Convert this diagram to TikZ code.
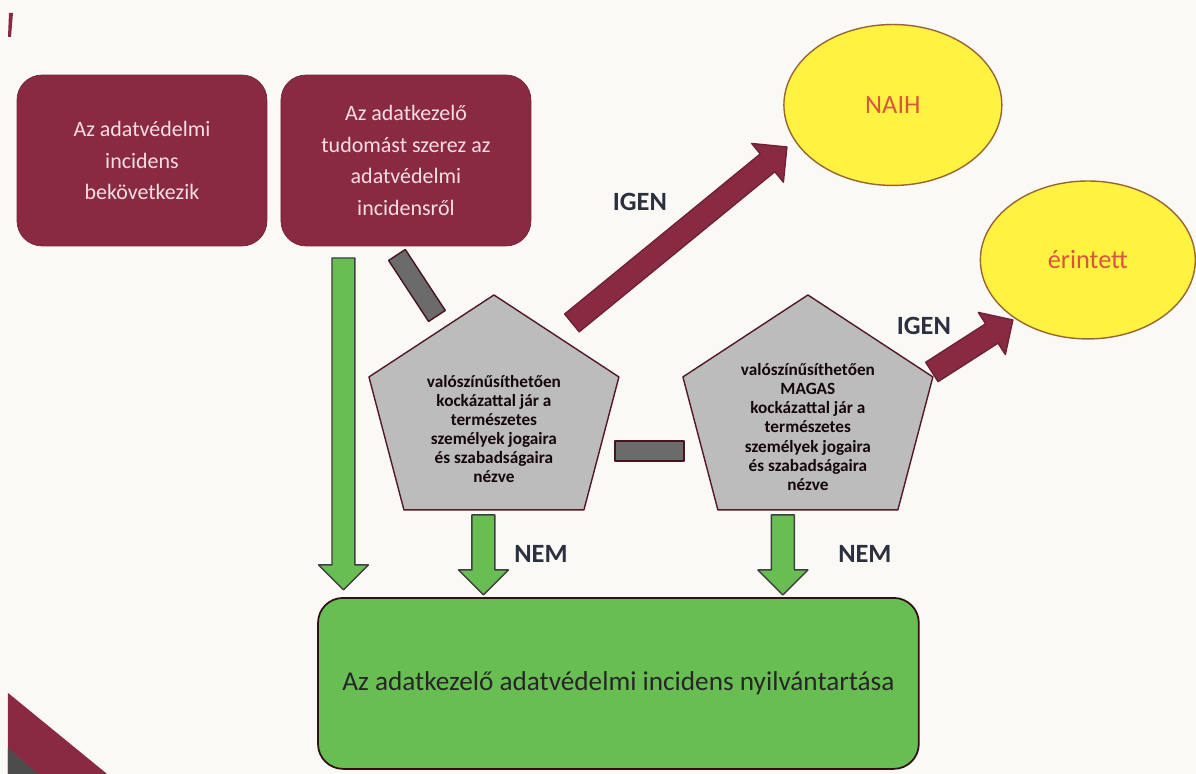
\documentclass[tikz,border=0pt]{standalone}
\usepackage{fontspec}
\setmainfont{Carlito}
\usetikzlibrary{calc,shapes.geometric}
\definecolor{maroon}{RGB}{138,42,66}
\definecolor{leaf}{RGB}{104,190,82}
\definecolor{sun}{RGB}{255,242,64}
\definecolor{stone}{RGB}{188,188,188}
\definecolor{slate}{RGB}{44,48,62}
\definecolor{rose}{RGB}{246,222,228}
\definecolor{naihred}{RGB}{220,84,64}
\definecolor{paper}{RGB}{250,249,246}
\newcommand{\blockarrow}[3]{%
  \coordinate (hb) at ($(#3)!0.5cm!(#2)$);
  \draw[#1] ($(#2)!0.23cm!90:(#3)$) -- ($(hb)!0.23cm!90:(#3)$) -- ($(hb)!0.5cm!90:(#3)$) -- (#3)
    -- ($(hb)!0.5cm!-90:(#3)$) -- ($(hb)!0.23cm!-90:(#3)$) -- ($(#2)!0.23cm!-90:(#3)$) -- cycle;}
\newcommand{\greybar}[2]{%
  \draw[bar] ($(#1)!0.2cm!90:(#2)$) -- ($(#2)!0.2cm!-90:(#1)$) -- ($(#2)!0.2cm!90:(#1)$) -- ($(#1)!0.2cm!-90:(#2)$) -- cycle;}
\begin{document}
\begin{tikzpicture}[x=0.02cm, y=-0.02cm, line cap=round, line join=round]
			\tikzset{maroonbox/.style={rounded corners=0.5cm, fill=maroon, draw=maroon!85!black, text=rose, minimum width=5cm, minimum height=3.42cm, align=center, font=\fontsize{12.5}{18}\selectfont},
				record/.style={rounded corners=0.5cm, fill=leaf, draw=black!65!maroon, line width=1pt, minimum width=12.02cm, minimum height=3.42cm, text=black!85, font=\fontsize{15.5}{18}\selectfont},
				target/.style={ellipse, fill=sun, draw=brown!80!black, line width=0.8pt, inner sep=0pt, text=naihred, font=\fontsize{15}{18}\selectfont},
				pentagon/.style={fill=stone, draw=maroon!60!black, line width=0.8pt},
				risk/.style={align=center, text=black!85!maroon, font=\bfseries\fontsize{9.8}{10.9}\selectfont},
				answer/.style={text=slate, font=\bfseries\fontsize{15}{18}\selectfont},
				green arrow/.style={fill=leaf, draw=black!75, line width=0.8pt},
				red arrow/.style={fill=maroon, draw=maroon!80!black, line width=0.8pt},
				bar/.style={fill=black!58, draw=maroon!50!black, line width=0.8pt}}
			\fill[paper] (0,0) rectangle (1196,774);
			\fill[maroon] (9,13) -- (13,13) -- (11,37) -- (8,37) -- cycle;
			\fill[maroon] (8,693) -- (107,774) -- (8,774) -- cycle;
			\fill[black!70] (8,748) -- (38,774) -- (8,774) -- cycle;
			\node[maroonbox] (occur) at (142,160.5) {Az adatvédelmi\\incidens\\bekövetkezik};
			\node[maroonbox] (aware) at (406,160.5) {Az adatkezelő\\tudomást szerez az\\adatvédelmi\\incidensről};
			\node[record] (record) at (618.5,683.5) {Az adatkezelő adatvédelmi incidens nyilvántartása};
			\node[target, minimum width=4.36cm, minimum height=3.22cm] (naih) at (893,105) {NAIH};
			\node[target, minimum width=4.3cm, minimum height=3.16cm] (subject) at (1088,260) {érintett};
			\foreach \cx in {494,808}
				\draw[pentagon] (\cx,295) -- (\cx+125,377) -- (\cx+90,510) -- (\cx-90,510) -- (\cx-125,377) -- cycle;
			\node[risk] (low) at (494,429) {valószínűsíthetően\\kockázattal jár a\\természetes\\személyek jogaira\\és szabadságaira\\nézve};
			\node[risk] (high) at (808,427) {valószínűsíthetően\\MAGAS\\kockázattal jár a\\természetes\\személyek jogaira\\és szabadságaira\\nézve};
			\coordinate (g1s) at (343.5,258); \coordinate (g1e) at (343.5,590);
			\coordinate (g2s) at (483.5,515); \coordinate (g2e) at (483.5,595);
			\coordinate (g3s) at (783,515); \coordinate (g3e) at (783,595);
			\coordinate (r1s) at (572,323); \coordinate (r1e) at (787,147);
			\coordinate (r2s) at (932,372); \coordinate (r2e) at (1013,320);
			\coordinate (b1s) at (397,255); \coordinate (b1e) at (437,316);
			\coordinate (b2s) at (615,451); \coordinate (b2e) at (684,451);
			\greybar{b1s}{b1e}
			\greybar{b2s}{b2e}
			\blockarrow{green arrow}{g1s}{g1e}
			\blockarrow{green arrow}{g2s}{g2e}
			\blockarrow{green arrow}{g3s}{g3e}
			\blockarrow{red arrow}{r1s}{r1e}
			\blockarrow{red arrow}{r2s}{r2e}
			\node[answer] (yes1) at (640,202) {IGEN};
			\node[answer] (yes2) at (924,326) {IGEN};
			\node[answer] (no1) at (541,554) {NEM};
			\node[answer] (no2) at (865,554) {NEM};
		\end{tikzpicture}
\end{document}
